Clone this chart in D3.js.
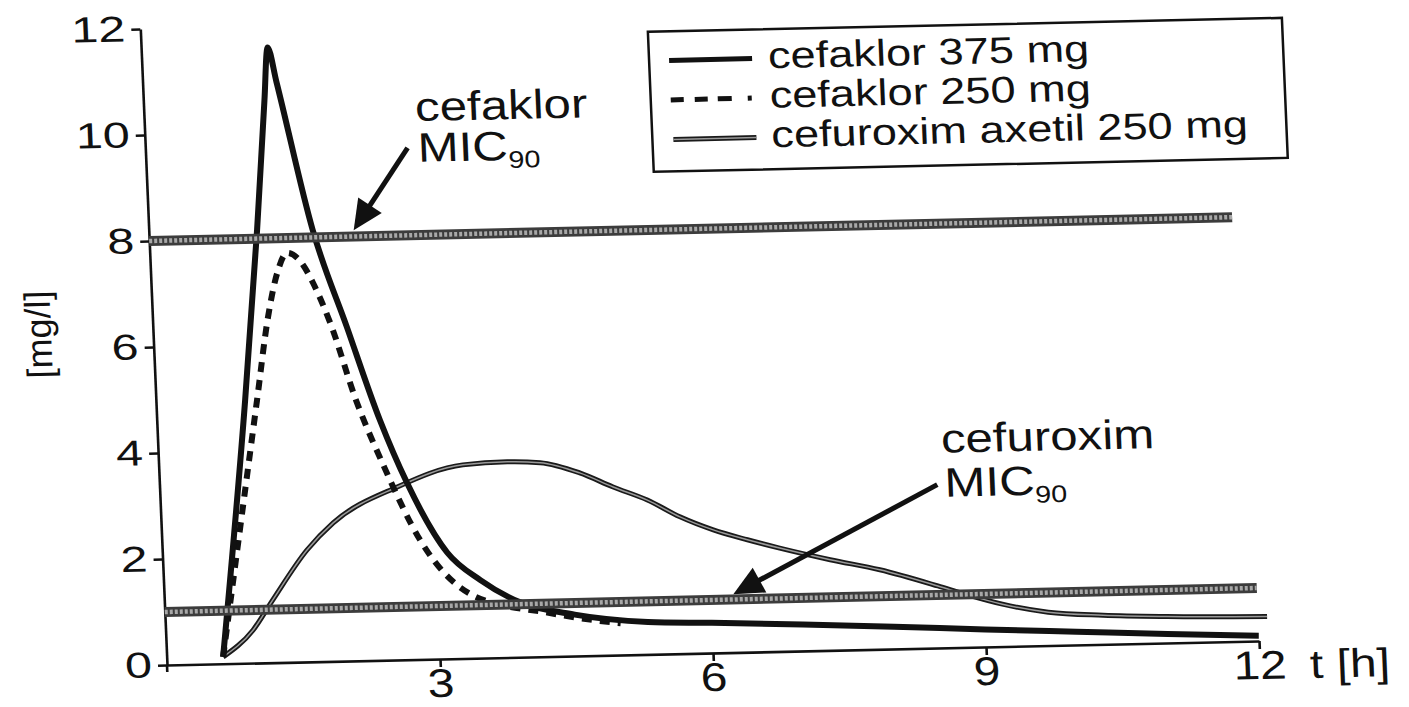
<!DOCTYPE html>
<html><head><meta charset="utf-8">
<script src="https://cdn.jsdelivr.net/npm/d3@7"></script>
<style>
html,body{margin:0;padding:0;background:#fff;}
svg{display:block;}
text{font-family:"Liberation Sans", Arial, Helvetica, sans-serif; fill:#111;}
</style></head><body>
<svg id="chart" width="1409" height="707"></svg>
<script>
// ---------- data ----------
const xTicks = [3, 6, 9, 12];
const xTickLabels = ["3", "6", "9", "12"];
const yTicks = [0, 2, 4, 6, 8, 10, 12];
const yTickLabels = ["0", "2", "4", "6", "8", "10", "12"];
const xTitle = "t [h]";
const yTitle = "[mg/l]";
const seriesNames = ["cefaklor 375 mg", "cefaklor 250 mg", "cefuroxim axetil 250 mg"];

// [time h, concentration mg/l]
const cefaklor375 = [
  [0.62,0.13],[0.98,4.96],[1.19,8.17],[1.33,10.6],[1.39,11.6],[1.47,10.95],
  [1.80,8.14],[2.13,6.3],[2.45,4.53],[2.72,3.33],[3.13,2.0],[3.48,1.47],
  [3.9,1.04],[4.5,0.78],[5.3,0.61],[6.0,0.57],[7.0,0.5],[8.0,0.42],
  [9.0,0.33],[10.0,0.25],[11.0,0.17],[12.0,0.1]
];
const cefaklor250 = [
  [0.62,0.13],[1.11,4.95],[1.27,6.52],[1.39,7.34],[1.51,7.72],[1.68,7.48],
  [1.78,7.14],[1.95,6.38],[2.2,4.9],[2.46,3.71],[2.84,2.24],[3.43,1.15],
  [4.2,0.83],[4.74,0.66],[5.0,0.6]
];
const cefuroxim250 = [
  [0.62,0.13],[0.96,0.62],[1.19,1.18],[1.59,2.11],[1.89,2.61],[2.61,3.26],
  [3.34,3.65],[3.83,3.69],[4.19,3.66],[4.62,3.45],[4.98,3.17],[5.35,2.91],
  [5.7,2.58],[6.06,2.32],[6.43,2.12],[6.78,1.95],[7.33,1.71],[7.87,1.5],
  [8.5,1.17],[8.8,1.0],[9.2,0.8],[9.7,0.63],[10.3,0.55],[11.0,0.5],[12.1,0.46]
];

// MIC90 reference levels
const micValues = [8, 1];
const micEnds = [11.9, 12.0];

// annotation labels (data coordinates) and arrows
const annoTexts = ["cefaklor", "MIC", "cefuroxim", "MIC"];
const annoSubs = ["", "90", "", "90"];
const annoPos = [[2.98,10.15],[2.99,9.38],[8.6,3.68],[8.62,2.85]];
const arrowFrom = [[2.88,9.65],[8.54,3.08]];
const arrowTo = [[2.25,8.12],[6.25,1.1]];

// ---------- drawing ----------
const W = 1409, H = 707;
const svg = d3.select("#chart");
svg.append("rect").attr("width", W).attr("height", H).attr("fill", "#fff");

// slight skew/rotation, like the scanned original
const g = svg.append("g")
  .attr("transform", "translate(167,665) matrix(1,-0.022,0.042,1,0,0)");

const x = d3.scaleLinear().domain([0, 12]).range([0, 1092]);
const y = d3.scaleLinear().domain([0, 12]).range([0, -636]);

const INK = "#111";

function txt(parent, px, py, str, size, sx, anchor) {
  return parent.append("text")
    .attr("transform", `translate(${px},${py}) scale(${sx},1)`)
    .attr("font-size", size)
    .attr("text-anchor", anchor || "start")
    .text(str);
}

// axes
const yAxis = d3.axisLeft(y).tickValues(yTicks).tickSize(9).tickSizeOuter(0).tickFormat("");
const xAxis = d3.axisBottom(x).tickValues(xTicks).tickSize(8).tickSizeOuter(0).tickFormat("");
const ya = g.append("g").call(yAxis);
const xa = g.append("g").call(xAxis);
[ya, xa].forEach(a => {
  a.select(".domain").attr("stroke", INK).attr("stroke-width", 2.6);
  a.selectAll(".tick line").attr("stroke", INK).attr("stroke-width", 2.6);
});
g.append("line").attr("x1", 0).attr("x2", 0).attr("y1", 0).attr("y2", 7)
  .attr("stroke", INK).attr("stroke-width", 2.6);

// tick labels
yTicks.forEach((v, i) => {
  txt(g, -15, y(v) + 12, yTickLabels[i], 36, 1.35, "end");
});
xTicks.forEach((t, i) => {
  txt(g, x(t), 38, xTickLabels[i], 40, 1.2, "middle");
});
txt(g, x(12) + 50, 38, xTitle, 40, 1.2, "start");
g.append("text")
  .attr("transform", `translate(-102,${(y(0) + y(12)) / 2 - 15}) rotate(-90)`)
  .attr("font-size", 36).attr("text-anchor", "middle").text(yTitle);

// curves
const line = d3.line().x(d => x(d[0])).y(d => y(d[1])).curve(d3.curveMonotoneX);

g.append("path").datum(cefuroxim250).attr("d", line)
  .attr("fill", "none").attr("stroke", "#1a1a1a").attr("stroke-width", 5)
  .attr("stroke-linejoin", "round");
g.append("path").datum(cefuroxim250).attr("d", line)
  .attr("fill", "none").attr("stroke", "#9a9a9a").attr("stroke-width", 1.5);

g.append("path").datum(cefaklor250).attr("d", line)
  .attr("fill", "none").attr("stroke", INK).attr("stroke-width", 6)
  .attr("stroke-dasharray", "10,8");

g.append("path").datum(cefaklor375).attr("d", line)
  .attr("fill", "none").attr("stroke", INK).attr("stroke-width", 6)
  .attr("stroke-linejoin", "miter");

// MIC bands
micValues.forEach((v, i) => {
  g.append("line").attr("x1", x(0)).attr("x2", x(micEnds[i]))
    .attr("y1", y(v)).attr("y2", y(v))
    .attr("stroke", "#3c3c3c").attr("stroke-width", 10);
  g.append("line").attr("x1", x(0)).attr("x2", x(micEnds[i]))
    .attr("y1", y(v)).attr("y2", y(v))
    .attr("stroke", "#a8a8a8").attr("stroke-width", 4.5)
    .attr("stroke-dasharray", "3,2");
});

// arrows
arrowFrom.forEach((f, i) => {
  const x0 = x(f[0]), y0 = y(f[1]);
  const x1 = x(arrowTo[i][0]), y1 = y(arrowTo[i][1]);
  const dx = x1 - x0, dy = y1 - y0, len = Math.hypot(dx, dy);
  const ux = dx / len, uy = dy / len, nx = -uy, ny = ux;
  const L = 30, hw = 14;
  const bx = x1 - L * ux, by = y1 - L * uy;
  g.append("line").attr("x1", x0).attr("y1", y0).attr("x2", bx + 4 * ux).attr("y2", by + 4 * uy)
    .attr("stroke", INK).attr("stroke-width", 5);
  g.append("path")
    .attr("d", `M${x1},${y1}L${bx + hw * nx},${by + hw * ny}L${bx - hw * nx},${by - hw * ny}Z`)
    .attr("fill", INK);
});

// annotation labels
annoTexts.forEach((s, i) => {
  const t = txt(g, x(annoPos[i][0]), y(annoPos[i][1]), s, 41, 1.2, "start");
  if (annoSubs[i]) {
    t.append("tspan").attr("font-size", 24).attr("dy", 8).text(annoSubs[i]);
  }
});

// legend
const lg = g.append("g");
lg.append("rect").attr("x", 507).attr("y", -622).attr("width", 634).attr("height", 140)
  .attr("fill", "#fff").attr("stroke", INK).attr("stroke-width", 2.5);
seriesNames.forEach((name, i) => {
  const base = -583 + i * 39.5;
  const ly = base - 10;
  if (i === 0) {
    lg.append("line").attr("x1", 527).attr("x2", 610).attr("y1", ly).attr("y2", ly)
      .attr("stroke", INK).attr("stroke-width", 5);
  } else if (i === 1) {
    lg.append("line").attr("x1", 527).attr("x2", 610).attr("y1", ly).attr("y2", ly)
      .attr("stroke", INK).attr("stroke-width", 5)
      .attr("stroke-dasharray", "13,11,13,10,14,16,4,100");
  } else {
    lg.append("line").attr("x1", 528).attr("x2", 611).attr("y1", ly).attr("y2", ly)
      .attr("stroke", "#1a1a1a").attr("stroke-width", 5);
    lg.append("line").attr("x1", 528).attr("x2", 611).attr("y1", ly).attr("y2", ly)
      .attr("stroke", "#9a9a9a").attr("stroke-width", 1.5);
  }
  txt(lg, 626, base, name, 37, 1.22, "start");
});
</script>
</body></html>
